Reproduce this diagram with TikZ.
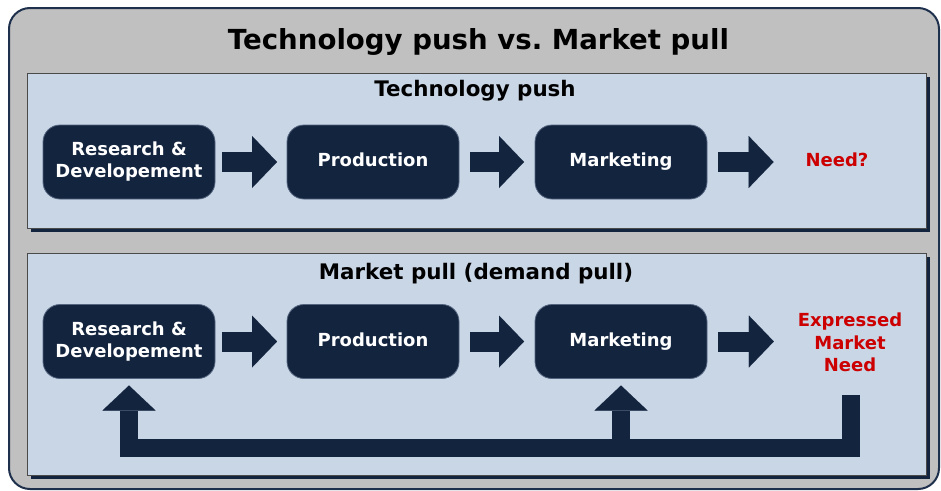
\documentclass[tikz,border=0pt]{standalone}
\usepackage{fontspec}
\setmainfont{DejaVu Sans}
\usetikzlibrary{arrows.meta,calc}
\frenchspacing
\definecolor{navy}{HTML}{13243F}
\definecolor{boxedge}{HTML}{55657F}
\definecolor{panelfill}{HTML}{C9D6E6}
\definecolor{paneledge}{HTML}{4A4A4A}
\definecolor{outerfill}{HTML}{C0C0C0}
\definecolor{outeredge}{HTML}{1E304C}
\definecolor{needred}{HTML}{CC0000}
\tikzset{
  stepbox/.style={draw=boxedge, line width=0.8pt, fill=navy, rounded corners=17pt,
    minimum width=172pt, minimum height=74pt, outer sep=0pt, inner sep=0pt,
    text=white, align=center, font=\fontsize{18}{22}\selectfont\bfseries},
  oneline/.style={text height=13.7pt, text depth=4.3pt},
  needtext/.style={text=needred, align=center, inner sep=0pt, outer sep=0pt,
    font=\fontsize{18}{22.5}\selectfont\bfseries},
  fatarrow/.style={draw=navy, line width=20pt,
    -{Triangle[length=25pt,width=52pt,line width=0.01pt]}},
  fbarrow/.style={draw=navy, line width=18pt, line join=miter,
    -{Triangle[length=25pt,width=53pt,line width=0.01pt]}},
  paneltitle/.style={anchor=base, font=\fontsize{21.4}{26}\selectfont\bfseries},
}
\begin{document}
\begin{tikzpicture}[x=1pt,y=-1pt]
\useasboundingbox (0,0) rectangle (941,490);
% outer frame
\draw[fill=outerfill, draw=outeredge, line width=2pt, rounded corners=21pt] (9,8) rectangle (939,489);
\node[anchor=base, font=\fontsize{27.6}{32}\selectfont\bfseries] (title) at (478.5,49.5) {Technology push vs. Market pull};
% panel 1
\fill[navy] (31,77) rectangle (930,232);
\draw[fill=panelfill, draw=paneledge, line width=1pt] (27,73) rectangle (926,228);
\node[paneltitle] (t1) at (475,96) {Technology push};
% panel 2
\fill[navy] (31,257) rectangle (930,479);
\draw[fill=panelfill, draw=paneledge, line width=1pt] (27,253) rectangle (926,475);
\node[paneltitle] (t2) at (476,279) {Market pull (demand pull)};
% row 1
\node[stepbox] (rd1) at (129,162) {Research \&\\Developement};
\node[stepbox, oneline] (pr1) at (373,162) {Production};
\node[stepbox, oneline] (mk1) at (621,162) {Marketing};
\node[needtext, oneline] (nd1) at (837,162) {Need?};
\draw[fatarrow, shorten <=7pt, shorten >=10pt] (rd1) -- (pr1);
\draw[fatarrow, shorten <=11pt, shorten >=11pt] (pr1) -- (mk1);
\draw[fatarrow, shorten <=11pt, shorten >=32pt] (mk1) -- (nd1);
% row 2
\node[stepbox] (rd2) at (129,341.5) {Research \&\\Developement};
\node[stepbox, oneline] (pr2) at (373,341.5) {Production};
\node[stepbox, oneline] (mk2) at (621,341.5) {Marketing};
\node[needtext] (nd2) at (850,342.7) {Expressed\\Market\\Need};
\draw[fatarrow, shorten <=7pt, shorten >=10pt] (rd2) -- (pr2);
\draw[fatarrow, shorten <=11pt, shorten >=11pt] (pr2) -- (mk2);
\draw[fatarrow, shorten <=11pt, shorten >=24pt] (mk2.east) -- (nd2.west |- mk2.east);
% feedback
\coordinate (fbstart) at (851,395);
\coordinate (barline) at (0,448);
\draw[fbarrow, shorten >=7pt] (fbstart) -- (fbstart |- barline) -- (rd2.south |- barline) -- (rd2.south);
\draw[fbarrow, shorten >=7pt] (mk2.south |- barline) -- (mk2.south);
\end{tikzpicture}
\end{document}
